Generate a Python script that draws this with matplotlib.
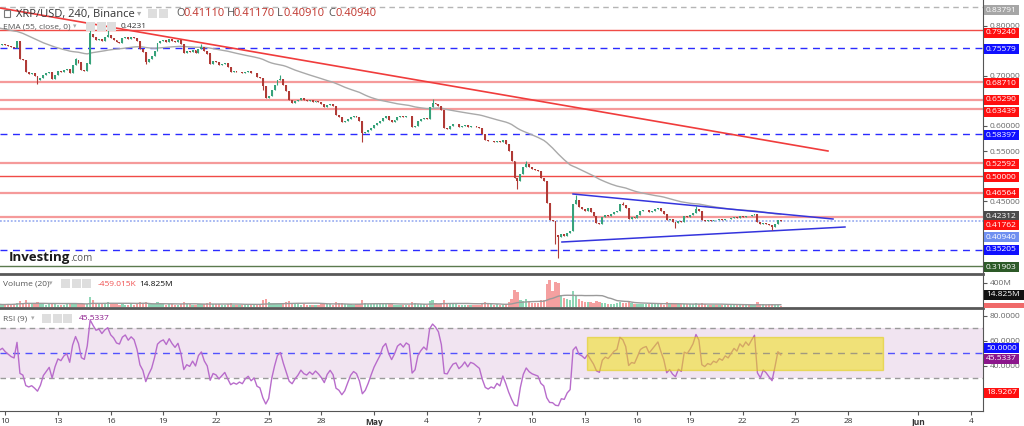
import numpy as np
import pandas as pd
import matplotlib
matplotlib.use("Agg")
import matplotlib.pyplot as plt
from matplotlib.patches import Rectangle
from matplotlib.lines import Line2D

W, H = 1024, 426
plt.rcParams['font.family'] = ['Open Sans', 'DejaVu Sans']

# ---------------- data (4h candles, XRP/USD) ----------------
first_open = 0.760
closes = [
    0.763, 0.765, 0.762, 0.760, 0.758, 0.757, 0.769, 0.735, 0.732, 0.709,
    0.705, 0.706, 0.700, 0.692, 0.696, 0.703, 0.706, 0.709, 0.694, 0.703,
    0.710, 0.708, 0.712, 0.714, 0.706, 0.722, 0.733, 0.727, 0.712, 0.710,
    0.725, 0.785, 0.778, 0.772, 0.775, 0.770, 0.778, 0.783, 0.776, 0.773,
    0.768, 0.767, 0.776, 0.779, 0.775, 0.779, 0.777, 0.770, 0.755, 0.748,
    0.729, 0.735, 0.740, 0.750, 0.766, 0.770, 0.772, 0.768, 0.775, 0.771,
    0.768, 0.772, 0.764, 0.746, 0.750, 0.748, 0.752, 0.747, 0.755, 0.758,
    0.750, 0.745, 0.725, 0.730, 0.728, 0.722, 0.724, 0.726, 0.718, 0.709,
    0.710, 0.708, 0.709, 0.707, 0.709, 0.710, 0.706, 0.707, 0.699, 0.697,
    0.680, 0.657, 0.660, 0.672, 0.682, 0.692, 0.695, 0.683, 0.670, 0.652,
    0.646, 0.650, 0.653, 0.657, 0.652, 0.650, 0.652, 0.649, 0.651, 0.648,
    0.644, 0.638, 0.642, 0.644, 0.640, 0.622, 0.618, 0.608, 0.610, 0.614,
    0.618, 0.620, 0.618, 0.610, 0.586, 0.588, 0.592, 0.597, 0.602, 0.606,
    0.610, 0.617, 0.620, 0.613, 0.608, 0.612, 0.618, 0.620, 0.618, 0.621,
    0.620, 0.598, 0.600, 0.610, 0.614, 0.617, 0.615, 0.638, 0.646, 0.644,
    0.641, 0.632, 0.596, 0.595, 0.600, 0.604, 0.605, 0.598, 0.600, 0.603,
    0.598, 0.601, 0.600, 0.598, 0.596, 0.585, 0.573, 0.570, 0.571, 0.569,
    0.571, 0.568, 0.572, 0.564, 0.550, 0.530, 0.497, 0.490, 0.505, 0.518,
    0.525, 0.518, 0.514, 0.512, 0.510, 0.496, 0.490, 0.447, 0.412, 0.410,
    0.383, 0.378, 0.385, 0.381, 0.387, 0.390, 0.445, 0.452, 0.438, 0.435,
    0.430, 0.436, 0.428, 0.420, 0.407, 0.404, 0.418, 0.422, 0.420, 0.424,
    0.428, 0.430, 0.445, 0.443, 0.437, 0.415, 0.418, 0.417, 0.423, 0.430,
    0.432, 0.433, 0.428, 0.431, 0.434, 0.437, 0.431, 0.425, 0.412, 0.414,
    0.409, 0.406, 0.410, 0.408, 0.420, 0.419, 0.422, 0.426, 0.434, 0.431,
    0.412, 0.410, 0.412, 0.411, 0.413, 0.412, 0.414, 0.413, 0.415, 0.414,
    0.416, 0.418, 0.417, 0.420, 0.419, 0.421, 0.420, 0.422, 0.424, 0.408,
    0.404, 0.407, 0.405, 0.402, 0.399, 0.404, 0.4111, 0.4094,
]
spike_highs = {26: 0.737, 31: 0.792, 37: 0.797, 69: 0.764, 96: 0.702, 148: 0.654,
               180: 0.530, 197: 0.462, 213: 0.449, 238: 0.440, 267: 0.4117}
spike_lows = {13: 0.685, 50: 0.725, 90: 0.672, 124: 0.569, 177: 0.475,
              190: 0.365, 191: 0.337, 231: 0.397, 264: 0.392, 267: 0.4091}

volumes_m = [
    45, 38, 42, 50, 40, 55, 70, 95, 60, 110,
    70, 50, 65, 80, 55, 45, 40, 50, 60, 45,
    40, 35, 38, 42, 50, 60, 70, 55, 60, 45,
    55, 160, 120, 70, 55, 50, 60, 75, 55, 45,
    50, 40, 45, 38, 40, 42, 38, 50, 85, 60,
    90, 55, 45, 50, 75, 55, 45, 40, 48, 42,
    38, 40, 45, 80, 50, 42, 40, 38, 45, 55,
    50, 60, 85, 55, 45, 50, 40, 38, 45, 60,
    35, 30, 32, 28, 30, 34, 29, 33, 45, 50,
    110, 130, 75, 70, 65, 60, 70, 65, 80, 95,
    70, 50, 45, 40, 42, 38, 36, 40, 35, 38,
    42, 48, 55, 45, 40, 80, 60, 70, 50, 45,
    42, 40, 45, 55, 110, 70, 55, 50, 48, 45,
    50, 55, 48, 45, 42, 40, 38, 36, 40, 35,
    38, 85, 60, 50, 45, 42, 40, 95, 110, 60,
    50, 65, 120, 70, 50, 45, 42, 40, 38, 36,
    38, 35, 37, 34, 40, 70, 85, 55, 45, 40,
    42, 38, 40, 50, 90, 130, 280, 250, 120, 100,
    140, 80, 70, 60, 65, 110, 120, 380, 450, 260,
    420, 400, 200, 150, 130, 120, 260, 200, 130, 100,
    90, 80, 75, 70, 95, 80, 70, 60, 55, 50,
    55, 60, 85, 70, 60, 90, 60, 50, 48, 55,
    50, 45, 42, 48, 45, 50, 42, 40, 75, 55,
    50, 65, 45, 42, 55, 45, 42, 48, 60, 50,
    70, 45, 40, 36, 34, 32, 30, 33, 31, 29,
    32, 30, 34, 31, 30, 33, 35, 32, 38, 75,
    55, 45, 40, 42, 55, 40, 35, 15,
]

ema_seed = 0.797
rsi_seed = (0.0040, 0.0040)

# horizontal levels
levels_red = [0.79240, 0.50000]
levels_pink = [0.68710, 0.65290, 0.63439, 0.52592, 0.46564, 0.41762]
levels_blue = [0.75579, 0.58397, 0.35205]
level_gray = 0.83791
level_green = 0.31903
last_price = 0.40940

# drawn lines: (days since Apr 10, price)
resist_days, resist_prices = [-0.30, 46.85], [0.836, 0.550]
tri_up_days, tri_up_prices = [32.33, 47.14], [0.464, 0.414]
tri_lo_days, tri_lo_prices = [31.70, 47.82], [0.368, 0.398]
rsi_box_days, rsi_box_vals = [33.13, 49.98], [36.4, 62.8]

tick_days = [0, 3, 6, 9, 12, 15, 18, 21, 24, 27, 30, 33, 36, 39, 42, 45, 48, 52, 55]
tick_labels = ["10", "13", "16", "19", "22", "25", "28", "May", "4", "7", "10",
               "13", "16", "19", "22", "25", "28", "Jun", "4"]

# axis ticks whose labels show (the rest sit under the coloured tags)
price_ticks = [0.35, 0.40, 0.45, 0.50, 0.55, 0.60, 0.65, 0.70, 0.75, 0.80]
price_tick_text = ["", "", "0.45000", "", "0.55000", "0.60000", "", "0.70000", "", "0.80000"]
rsi_ticks = [20, 40, 60, 80]
rsi_tick_text = ["", "40.0000", "60.0000", "80.0000"]

# right-hand price tags: (value, text, colour, nudge px down)
price_tags = [
    (0.83791, "0.83791", "#a6a6a6", 3), (0.79240, "0.79240", "#ff1010", 3),
    (0.75579, "0.75579", "#1010ff", 1), (0.68710, "0.68710", "#ff1010", 1),
    (0.65290, "0.65290", "#ff1010", 0), (0.63439, "0.63439", "#ff1010", 3),
    (0.58397, "0.58397", "#1010ff", 1), (0.52592, "0.52592", "#ff1010", 1),
    (0.50000, "0.50000", "#ff1010", 1), (0.46564, "0.46564", "#ff1010", 0),
    (0.42312, "0.42312", "#4a4a4a", 2), (0.41762, "0.41762", "#ff1010", 8),
    (0.40940, "0.40940", "#6f8ff0", 16), (0.35205, "0.35205", "#1010ff", 0),
    (0.31903, "0.31903", "#2d5a28", 1),
]
rsi_tags = [(50.0, "50.0000", "#1010ff", -5), (45.5337, "45.5337", "#8b168b", 0),
            (18.9267, "18.9267", "#ff1010", 1)]

# ---------------- derived series ----------------
closes = np.array(closes)
n = len(closes)
opens = np.concatenate([[first_open], closes[:-1]])
days = -1 / 3 + np.arange(n) / 6
highs = np.maximum(opens, closes)
lows = np.minimum(opens, closes)
for k, v in spike_highs.items():
    highs[k] = v
for k, v in spike_lows.items():
    lows[k] = v
up = closes >= opens

ema = pd.Series(np.concatenate([[ema_seed], closes])).ewm(span=55, adjust=False).mean().to_numpy()[1:]

ag, al = rsi_seed
rsi = []
for d in closes - opens:
    ag = (ag * 8 + max(d, 0)) / 9
    al = (al * 8 + max(-d, 0)) / 9
    rsi.append(100 - 100 / (1 + ag / al))
rsi = np.array(rsi)

vol = np.array(volumes_m[:n], dtype=float)
vol_ma = pd.Series(vol).rolling(20, min_periods=1).mean()

# ---------------- figure ----------------
fig = plt.figure(figsize=(W / 100, H / 100), dpi=100)
fig.patch.set_facecolor("white")
XL = (-0.302, 55.68)
AX_R = 983 / W

ax_p = fig.add_axes([0, 1 - 273 / H, AX_R, 273 / H])
ax_v = fig.add_axes([0, 1 - 307 / H, AX_R, 32 / H])
ax_r = fig.add_axes([0, 1 - 411 / H, AX_R, 102 / H])

for ax in (ax_p, ax_v, ax_r):
    ax.set_xlim(*XL)
    ax.set_facecolor("none")
    for s in ("left", "top", "bottom"):
        ax.spines[s].set_visible(False)
    ax.spines["right"].set_color("#555555")
    ax.yaxis.tick_right()
    ax.tick_params(axis="y", colors="#555555", labelsize=6, length=3, pad=2,
                   labelcolor="#666666")
    ax.set_xticks([])

# price pane
ax_p.set_ylim(0.306, 0.852)
ax_p.set_yticks(price_ticks)
ax_p.set_yticklabels(price_tick_text)

ax_p.axhline(level_gray, color="#b5b5b5", lw=1, dashes=(4, 3))
for lv in levels_red:
    ax_p.axhline(lv, color="#f04b46", lw=1)
for lv in levels_pink:
    ax_p.axhline(lv, color="#f59a9a", lw=1.6)
for lv in levels_blue:
    ax_p.axhline(lv, color="#2b2bff", lw=1, dashes=(5, 4))
ax_p.axhline(level_green, color="#5b7a4d", lw=1)
ax_p.axhline(last_price, color="#9fb2f2", lw=1.3, ls=(0, (1, 1)))

ax_p.plot(days, ema, color="#a9a9a9", lw=1)
ax_p.plot(resist_days, resist_prices, color="#f03c3c", lw=1.2)
ax_p.plot(tri_up_days, tri_up_prices, color="#3434dd", lw=1.1)
ax_p.plot(tri_lo_days, tri_lo_prices, color="#3434dd", lw=1.1)

c_up, c_dn = "#36a27a", "#b03a36"
cols = np.where(up, c_up, c_dn)
ax_p.vlines(days, lows, highs, colors=cols, lw=0.8, zorder=3)
body_h = np.maximum(np.abs(closes - opens), 0.0008)
ax_p.bar(days, body_h, bottom=np.minimum(opens, closes), width=0.11,
         color=cols, zorder=4)

# volume pane
ax_v.set_ylim(0, 533)
ax_v.set_yticks([400])
ax_v.set_yticklabels(["400M"])
vcols = np.where(up, "#8fd6b6", "#f5a0a0")
ax_v.bar(days, vol, width=0.13, color=vcols)
ax_v.plot(days, vol_ma, color="#9a9a9a", lw=1)

# RSI pane
ax_r.set_ylim(3.6, 85.2)
ax_r.set_yticks(rsi_ticks)
ax_r.set_yticklabels(rsi_tick_text)
ax_r.axhspan(30, 70, color="#f1e4f1", lw=0)
ax_r.axhline(70, color="#9a9a9a", lw=1, dashes=(4, 3))
ax_r.axhline(30, color="#9a9a9a", lw=1, dashes=(4, 3))
ax_r.axhline(50, color="#5252ff", lw=1, dashes=(5, 4))
ax_r.plot(days, rsi, color="#b86ccb", lw=1, zorder=3)
ax_r.add_patch(Rectangle((rsi_box_days[0], rsi_box_vals[0]),
                         rsi_box_days[1] - rsi_box_days[0],
                         rsi_box_vals[1] - rsi_box_vals[0],
                         facecolor="#f0e000", alpha=0.5, edgecolor="#e0cc00",
                         lw=1, zorder=4))
ax_r.spines["bottom"].set_visible(True)
ax_r.spines["bottom"].set_color("#555555")
ax_r.set_xticks(tick_days)
ax_r.set_xticklabels(tick_labels)
ax_r.tick_params(axis="x", colors="#555555", labelsize=6, length=3, pad=2,
                 labelcolor="#333333")
for lbl in ax_r.get_xticklabels():
    if lbl.get_text() in ("May", "Jun"):
        lbl.set_fontweight("bold")

# pane separators
for yy in (273.5, 308):
    fig.add_artist(Line2D([0, AX_R], [1 - yy / H] * 2, color="#585858", lw=2))


def px(x, y):
    return x / W, 1 - y / H


def tag(ax, value, text, bg, nudge):
    y = H - ax.transData.transform((0, value))[1] + nudge
    fig.patches.append(Rectangle(px(983.5, y + 5), 35 / W, 10 / H,
                                 transform=fig.transFigure, facecolor=bg,
                                 edgecolor="none", zorder=10))
    fig.text(*px(986, y), text, color="white", fontsize=6, va="center",
             ha="left", zorder=11)


for v, t, c, nd in price_tags:
    tag(ax_p, v, t, c, nd)
for v, t, c, nd in rsi_tags:
    tag(ax_r, v, t, c, nd)
fig.patches.append(Rectangle(px(983.5, 300), 40 / W, 10 / H, transform=fig.transFigure,
                             facecolor="#111111", zorder=10))
fig.text(*px(986, 295), "14.825M", color="white", fontsize=6, va="center", zorder=11)
fig.patches.append(Rectangle(px(983.5, 308), 40 / W, 5 / H, transform=fig.transFigure,
                             facecolor="#f06a6a", zorder=10))


def icons(x0, y0, count):
    for k in range(count):
        fig.patches.append(Rectangle(px(x0 + k * 10.5, y0 + 4), 9 / W, 9 / H,
                                     transform=fig.transFigure, facecolor="#dedede",
                                     edgecolor="none", zorder=10))


# header
fig.patches.append(Rectangle(px(3.5, 17), 6 / W, 7 / H, transform=fig.transFigure,
                             facecolor="white", edgecolor="#777777", lw=0.8, zorder=10))
fig.text(*px(16, 14), "XRP/USD, 240, Binance", fontsize=8, color="#333333",
         va="center", zorder=11)
fig.text(*px(137, 14), "▾", fontsize=6, color="#aaaaaa", va="center", zorder=11)
icons(148, 14, 2)
for x0, letter, val in [(176, "O", "0.41110"), (227, "H", "0.41170"),
                        (277, "L", "0.40910"), (328, "C", "0.40940")]:
    fig.text(*px(x0, 14), letter, fontsize=8, color="#555555", va="center", zorder=11)
    fig.text(*px(x0 + 7, 14), val, fontsize=8, color="#c0332b", va="center", zorder=11)

fig.text(*px(3, 27), "EMA (55, close, 0)", fontsize=6, color="#555555", va="center", zorder=11)
fig.text(*px(73, 27), "▾", fontsize=5, color="#aaaaaa", va="center", zorder=11)
icons(86, 27, 3)
fig.text(*px(121, 27), "0.4231", fontsize=6, color="#333333", va="center", zorder=11)

fig.text(*px(3, 284), "Volume (20)", fontsize=6, color="#555555", va="center", zorder=11)
fig.text(*px(49, 284), "▾", fontsize=5, color="#aaaaaa", va="center", zorder=11)
icons(61, 284, 3)
fig.text(*px(98, 284), "-459.015K", fontsize=6, color="#f05050", va="center", zorder=11)
fig.text(*px(139, 284), "14.825M", fontsize=6, color="#111111", va="center", zorder=11)

fig.text(*px(3, 319), "RSI (9)", fontsize=6, color="#555555", va="center", zorder=11)
fig.text(*px(31, 319), "▾", fontsize=5, color="#aaaaaa", va="center", zorder=11)
icons(42, 319, 3)
fig.text(*px(79, 319), "45.5337", fontsize=6, color="#8b1a8b", va="center", zorder=11)

# logo
fig.text(*px(9, 257), "Investing", fontsize=9.5, fontweight="bold", color="#1a1a1a",
         va="center", zorder=11)
fig.text(*px(70, 258.5), ".com", fontsize=7, color="#555555", va="center", zorder=11)

fig.savefig("out.png", dpi=100)
